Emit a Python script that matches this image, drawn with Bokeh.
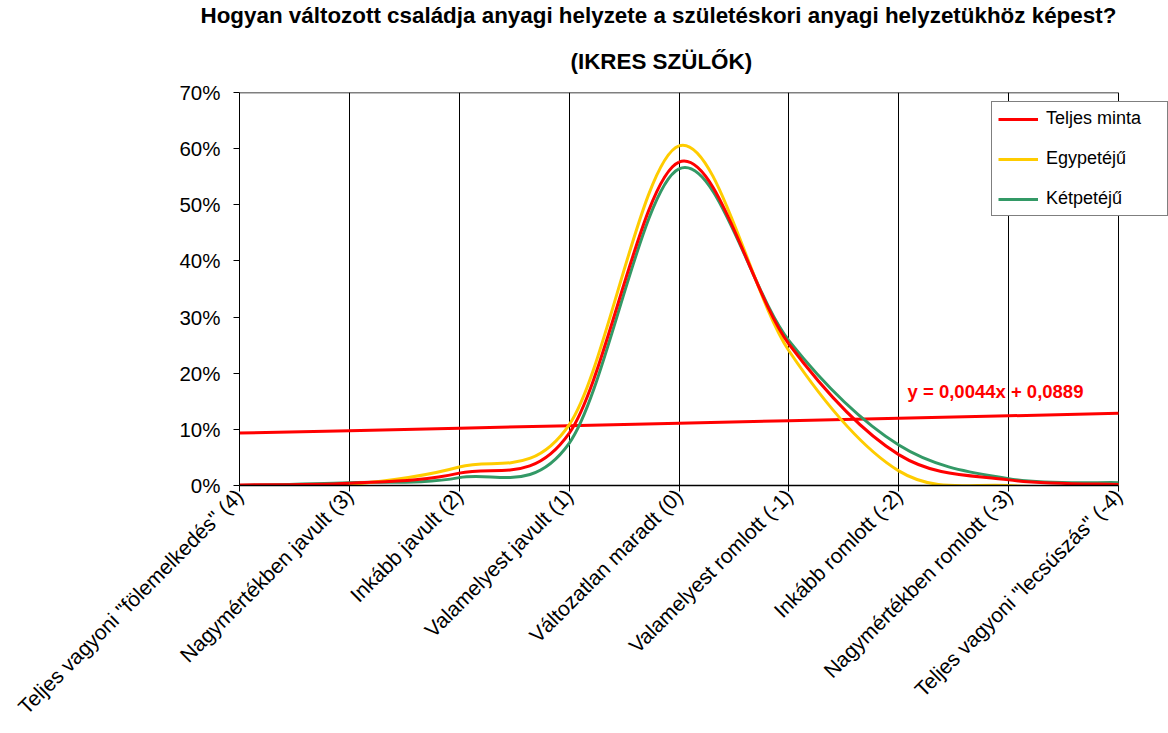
import math
from bokeh.plotting import figure
from bokeh.models import (Range1d, FixedTicker, NumeralTickFormatter, Label, Legend,
                          LegendItem, Title)
from bokeh.embed import file_html
from bokeh.resources import INLINE

# ---------------- data ----------------
categories = [
    'Teljes vagyoni "fölemelkedés" (4)',
    'Nagymértékben javult (3)',
    'Inkább javult (2)',
    'Valamelyest javult (1)',
    'Változatlan maradt (0)',
    'Valamelyest romlott (-1)',
    'Inkább romlott (-2)',
    'Nagymértékben romlott (-3)',
    'Teljes vagyoni "lecsúszás" (-4)',
]
positions = [1, 2, 3, 4, 5, 6, 7, 8, 9]
teljes_minta = [0.001, 0.004, 0.022, 0.093, 0.576, 0.252, 0.055, 0.010, 0.002]
egypeteju = [0.000, 0.002, 0.033, 0.108, 0.605, 0.240, 0.026, 0.000, 0.000]
ketpeteju = [0.000, 0.005, 0.014, 0.075, 0.564, 0.258, 0.072, 0.012, 0.005]
series_names = ["Teljes minta", "Egypetéjű", "Kétpetéjű"]
series_colors = ["#FF0000", "#FFCC00", "#339966"]
trend_slope = 0.0044
trend_intercept = 0.0889
trend_text = "y = 0,0044x + 0,0889"
y_ticks = [0.0, 0.1, 0.2, 0.3, 0.4, 0.5, 0.6, 0.7]
title_line1 = "Hogyan változott családja anyagi helyzete a születéskori anyagi helyzetükhöz képest?"
title_line2 = "(IKRES SZÜLŐK)"

FONT = "Liberation Sans"
W, H = 1168, 733
LEFT, TOP, BOTTOM_Y = 239, 92, 485
CAT_PX = (1118 - LEFT) / 8.0           # pixel width of one category step
x_end = positions[-1] + (W - 1118) / CAT_PX   # room on the right for the legend

p = figure(width=W, height=H, output_backend="svg", toolbar_location=None,
           x_range=Range1d(positions[0], x_end), y_range=Range1d(0, y_ticks[-1]),
           min_border_left=LEFT, min_border_right=0, min_border_top=TOP,
           min_border_bottom=H - BOTTOM_Y)
p.background_fill_color = "white"
p.border_fill_color = "white"
p.outline_line_color = None

# title: two lines (line 2 sits next to the plot, line 1 above it)
p.title.text = title_line1
p.title.align = "left"
p.title.vertical_align = "top"
p.title.offset = -39
p.title.text_font = FONT
p.title.text_font_size = "22.4px"
p.title.text_font_style = "bold"
p.title.text_color = "black"
p.title.standoff = 5
p.add_layout(Title(text=title_line2, align="left", vertical_align="top", offset=331,
                   text_font=FONT, text_font_size="22.4px", text_font_style="bold",
                   text_color="black", standoff=33), "above")

# axes
p.yaxis.ticker = FixedTicker(ticks=y_ticks)
p.yaxis.formatter = NumeralTickFormatter(format="0%")
p.yaxis.major_label_text_font = FONT
p.yaxis.major_label_text_font_size = "20.5px"
p.yaxis.major_label_text_color = "black"
p.yaxis.major_tick_out = 6
p.yaxis.major_tick_in = 0
p.yaxis.minor_tick_line_color = None
p.yaxis.axis_line_color = "black"
p.yaxis.major_tick_line_color = "black"
p.yaxis.major_label_standoff = 13

p.xaxis.ticker = FixedTicker(ticks=positions)
p.xaxis.bounds = (positions[0], positions[-1])
p.xaxis.major_label_overrides = {pos: lab for pos, lab in zip(positions, categories)}
p.xaxis.major_label_orientation = math.pi / 4
p.xaxis.major_label_text_font = FONT
p.xaxis.major_label_text_font_size = "21px"
p.xaxis.major_label_text_color = "black"
p.xaxis.major_tick_out = 6
p.xaxis.major_tick_in = 0
p.xaxis.minor_tick_line_color = None
p.xaxis.axis_line_color = "black"
p.xaxis.axis_line_width = 1.5
p.xaxis.major_tick_line_color = "black"
p.xaxis.major_label_standoff = 1

p.ygrid.grid_line_color = None
p.xgrid.grid_line_color = "black"
p.xgrid.grid_line_width = 1

# top border of the plot area (only over the categories)
p.line(x=[positions[0], positions[-1]], y=[y_ticks[-1], y_ticks[-1]],
       line_color="black", line_width=1.5)


def smooth_segments(xs, ys):
    """Excel-like smoothed line: cubic Bezier segments through the data points."""
    n = len(xs)
    out = {k: [] for k in ("x0", "y0", "x1", "y1", "cx0", "cy0", "cx1", "cy1")}
    for i in range(n - 1):
        px, py = xs[i], ys[i]
        qx, qy = xs[i + 1], ys[i + 1]
        ax, ay = (xs[i - 1], ys[i - 1]) if i > 0 else (px, py)
        bx, by = (xs[i + 2], ys[i + 2]) if i + 2 < n else (qx, qy)
        out["x0"].append(px); out["y0"].append(py)
        out["x1"].append(qx); out["y1"].append(qy)
        out["cx0"].append(px + (qx - ax) / 6.0); out["cy0"].append(py + (qy - ay) / 6.0)
        out["cx1"].append(qx - (bx - px) / 6.0); out["cy1"].append(qy - (by - py) / 6.0)
    return out


# linear trend line of the total sample
trend_y = [trend_slope * x + trend_intercept for x in positions]
p.line(x=positions, y=trend_y, line_color="#FF0000", line_width=3)

items = []
for name, vals, col in reversed(list(zip(series_names,
                                         [teljes_minta, egypeteju, ketpeteju],
                                         series_colors))):
    seg = smooth_segments(positions, vals)
    r = p.bezier(line_color=col, line_width=3, **seg)
    items.insert(0, LegendItem(label=name, renderers=[r]))

legend = Legend(items=items, location=(752, 269), orientation="vertical",
                label_text_font=FONT, label_text_font_size="18px",
                label_text_color="black", glyph_width=40, glyph_height=20,
                label_standoff=8, spacing=19, padding=6, margin=0,
                label_width=115,
                border_line_color="black", border_line_width=1,
                background_fill_color="white", background_fill_alpha=1.0)
p.add_layout(legend, "center")

# trend equation label
p.add_layout(Label(x=7.08, y=0.167, text=trend_text, text_font=FONT,
                   text_font_size="18.5px", text_font_style="bold",
                   text_color="#FF0000", text_baseline="middle", text_align="left"))

open("out.html", "w").write(file_html(p, INLINE))
